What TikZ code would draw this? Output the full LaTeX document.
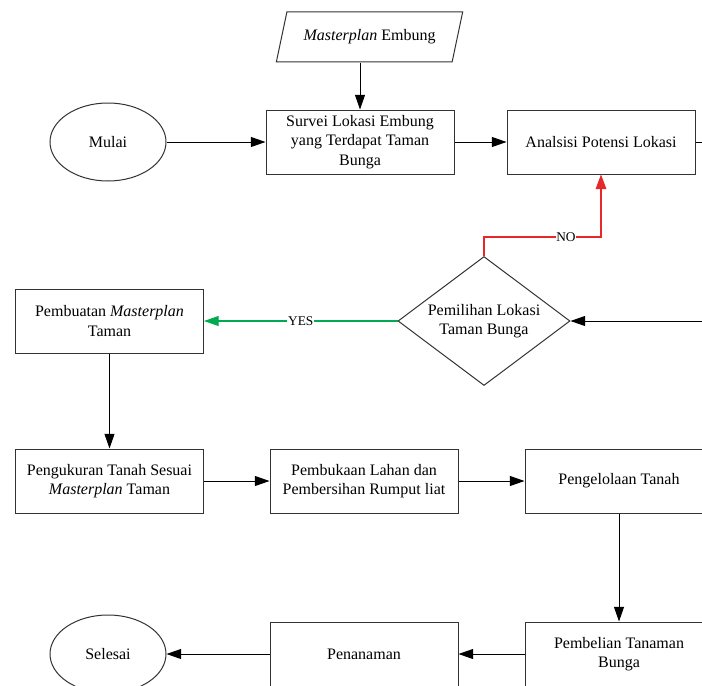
\documentclass[tikz,border=0pt]{standalone}
\usepackage{fontspec}
\setmainfont{Liberation Serif}
\usetikzlibrary{shapes.geometric, arrows.meta}

\definecolor{nored}{RGB}{230, 40, 40}
\definecolor{yesgreen}{RGB}{0, 170, 80}

\begin{document}
\begin{tikzpicture}[x = 0.75pt, y = -0.75pt, > = {Triangle[length = 11pt, width = 7.5pt]},
	txt/.style = {font = \fontsize{12}{14.6}\selectfont, align = center, text = black},
	box/.style = {txt, draw = black!80, line width = 0.75pt, minimum width = 141pt, minimum height = 48pt, inner sep = 2pt},
	term/.style = {txt, draw = black!80, line width = 0.75pt, ellipse, minimum width = 87pt, minimum height = 58.5pt},
	io/.style = {txt, draw = black!80, line width = 0.75pt, trapezium, trapezium left angle = 69, trapezium right angle = 111, trapezium stretches = true, minimum width = 140pt, minimum height = 37.5pt},
	choice/.style = {txt, draw = black!80, line width = 0.75pt, diamond, aspect = 1.33, inner sep = 0pt, minimum width = 129pt, minimum height = 96.75pt},
	flow/.style = {->, line width = 0.75pt, black},
	lbl/.style = {fill = white, inner sep = 0.5pt, text = black, font = \fontsize{10}{12}\selectfont}]

	% Page
	
	\fill [white] (0, 0) rectangle (702, 685);
	\clip (0, 0) rectangle (702, 685);
	
	% Row 1
	
	\node [io] (plan) at (369.5, 37) {\textit{Masterplan} Embung};
	\node [term] (mulai) at (108, 142) {Mulai};
	\node [box] (survei) at (360, 142) {Survei Lokasi Embung\\yang Terdapat Taman\\Bunga};
	\node [box] (ana) at (601, 142) {Analsisi Potensi Lokasi};
	\coordinate (outA) at (730, 142);
	
	% Row 2
	
	\node [box] (buat) at (109.5, 321) {Pembuatan \textit{Masterplan}\\Taman};
	\node [choice] (pilih) at (484, 321) {Pemilihan Lokasi\\Taman Bunga};
	\coordinate (outB) at (730, 321);
	
	% Row 3
	
	\node [box] (ukur) at (109.5, 481) {Pengukuran Tanah Sesuai\\\textit{Masterplan} Taman};
	\node [box] (buka) at (364, 481) {Pembukaan Lahan dan\\Pembersihan Rumput liat};
	\node [box] (olah) at (619, 481) {Pengelolaan Tanah};
	
	% Row 4
	
	\node [term] (selesai) at (108, 654) {Selesai};
	\node [box] (tanam) at (364, 654) {Penanaman};
	\node [box] (beli) at (619, 654) {Pembelian Tanaman\\Bunga};
	
	% Connectors
	
	\draw [flow] (plan.south -| survei.north) -- (survei.north);
	\draw [flow] (mulai) -- (survei);
	\draw [flow] (survei) -- (ana);
	\draw [line width = 0.75pt] (ana) -- (outA);
	\draw [flow] (outB) -- (pilih.east);
	
	\draw [-{Triangle[length = 11pt, width = 8pt]}, line width = 0.8pt, nored] (pilih.north) -- ++(0, -19) -| node [pos = 0.35, lbl] {NO} (ana.south);
	\draw [-{Triangle[length = 11pt, width = 7.5pt]}, line width = 0.8pt, yesgreen] (pilih.west) -- node [lbl] {YES} (buat.east);
	
	\draw [flow] (buat) -- (ukur);
	\draw [flow] (ukur) -- (buka);
	\draw [flow] (buka) -- (olah);
	\draw [flow] (olah) -- (beli);
	\draw [flow] (beli) -- (tanam);
	\draw [flow] (tanam) -- (selesai);

\end{tikzpicture}
\end{document}
